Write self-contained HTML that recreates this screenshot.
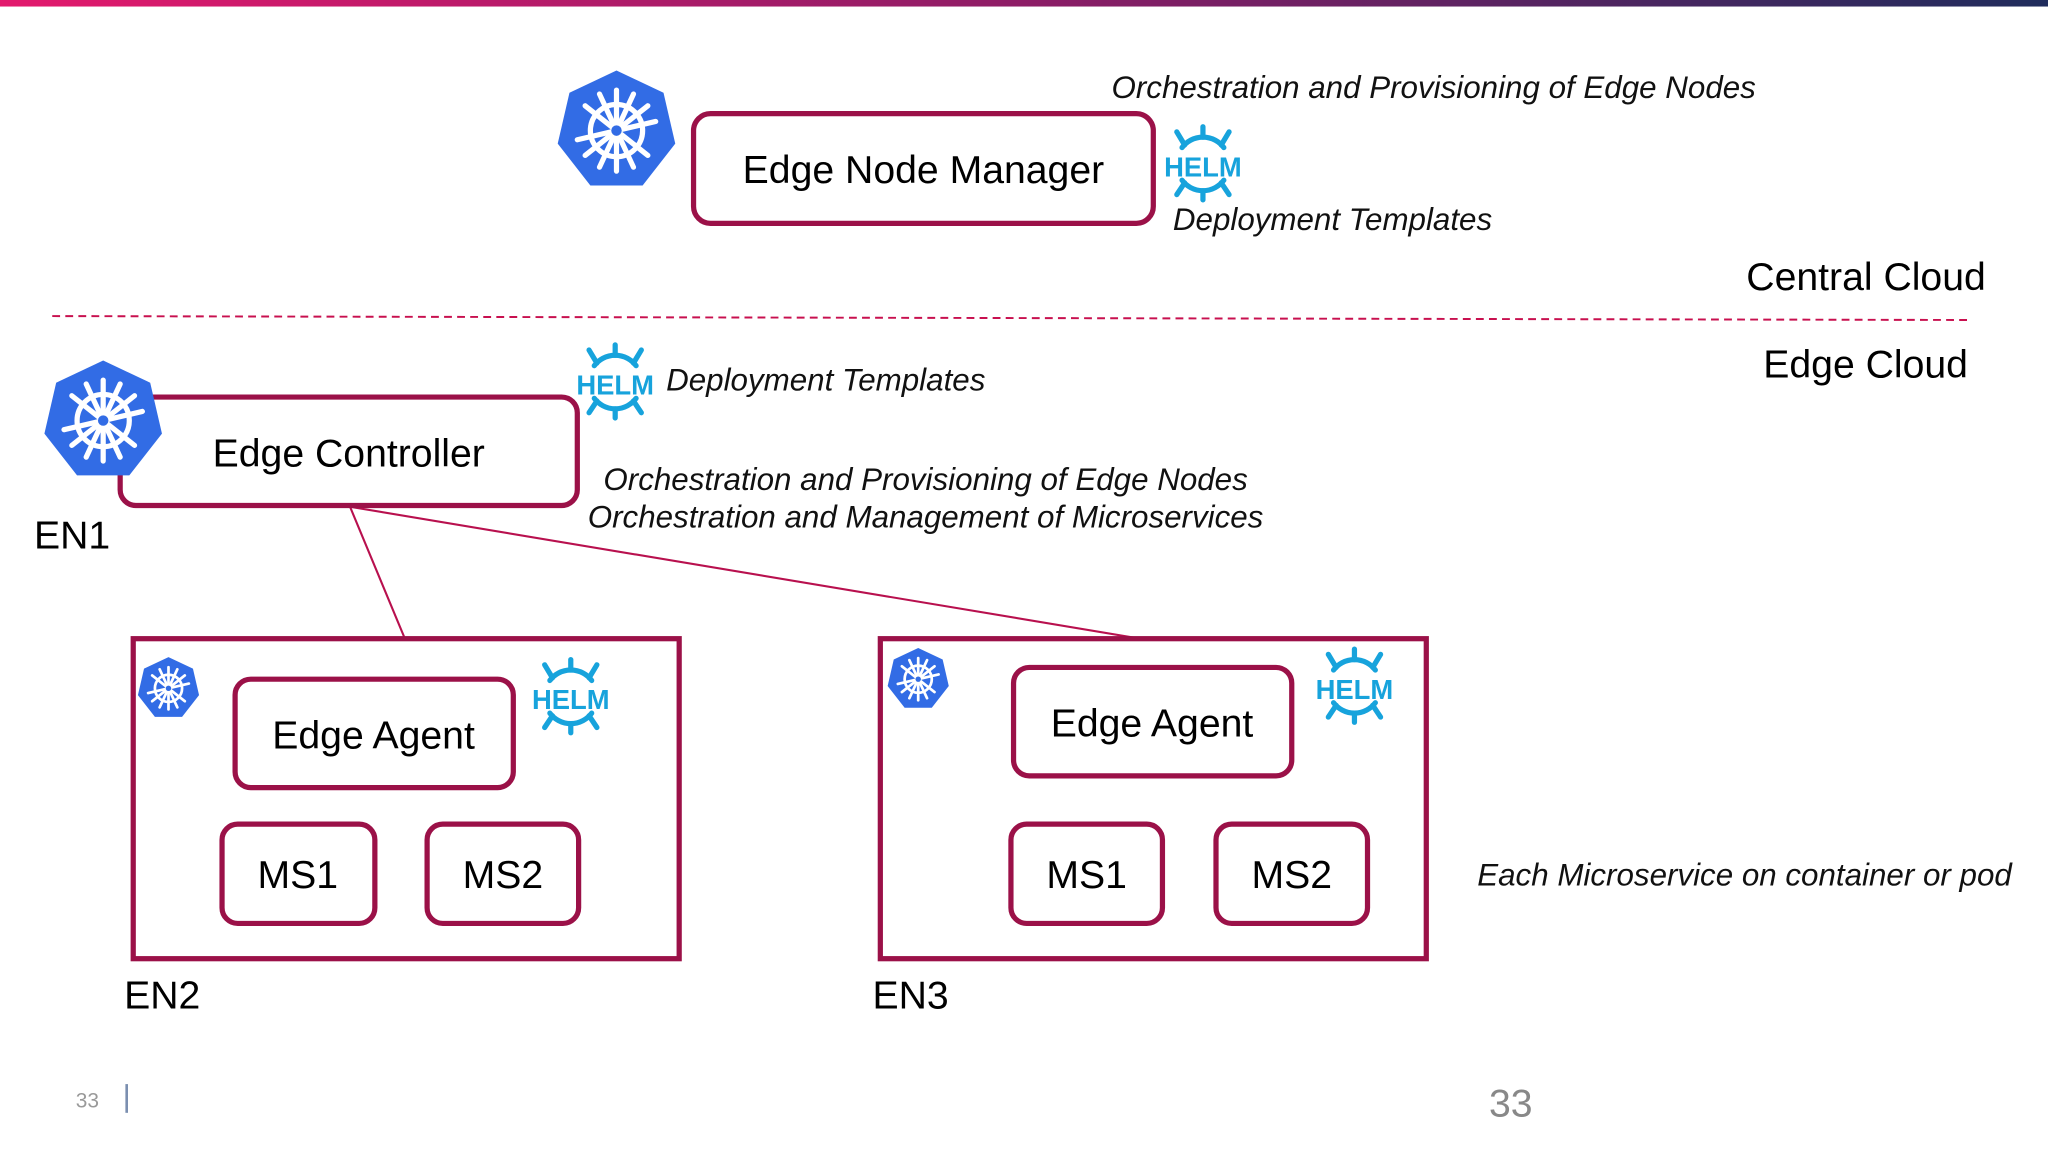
<!DOCTYPE html>
<html><head><meta charset="utf-8"><style>
html,body{margin:0;padding:0;background:#fff;}
svg{display:block;}
text{font-family:"Liberation Sans",Arial,sans-serif;}
.it{font-style:italic;font-size:24px;fill:#111;}
.lb{font-size:30px;fill:#000;}
.box{fill:#fff;stroke:#9b1148;stroke-width:4;}
</style></head><body>
<svg width="2048" height="1152" viewBox="0 0 1568 882" preserveAspectRatio="none" xmlns="http://www.w3.org/2000/svg">
<defs>
<linearGradient id="g" x1="0" x2="1" y1="0" y2="0">
<stop offset="0" stop-color="#e3196d"/><stop offset="0.5" stop-color="#8d1c66"/><stop offset="1" stop-color="#1f2c5c"/>
</linearGradient>
<g id="k8s">
<polygon points="0,-46 36,-29 45,10 20,42 -20,42 -45,10 -36,-29" fill="#326ce5"/>
<g stroke="#fff" stroke-width="4" fill="none" stroke-linecap="round">
<circle r="20"/>
<line x1="0" y1="-31" x2="0" y2="31"/>
<line x1="-24" y1="-19" x2="24" y2="19"/>
<line x1="24" y1="-19" x2="-24" y2="19"/>
<line x1="-30" y1="7" x2="30" y2="-7"/>
<line x1="-13" y1="28" x2="13" y2="-28"/>
<line x1="13" y1="28" x2="-13" y2="-28"/>
</g>
<circle r="4" fill="#326ce5"/>
</g>
<g id="helm" stroke="#17a3dc" stroke-width="4" fill="none" stroke-linecap="round">
<path d="M-16,-12 A20,20 0 0 1 16,-12"/>
<path d="M-16,13 A20,20 0 0 0 16,13"/>
<line x1="0" y1="-20" x2="0" y2="-28"/><line x1="-14" y1="-14" x2="-20" y2="-24"/><line x1="14" y1="-14" x2="20" y2="-24"/>
<line x1="0" y1="21" x2="0" y2="28"/><line x1="-14" y1="15" x2="-20" y2="24"/><line x1="14" y1="15" x2="20" y2="24"/>
</g>
</defs>
<rect x="0" y="0" width="1568" height="5" fill="url(#g)"/>

<use href="#k8s" transform="translate(472,100)"/>
<rect class="box" x="531" y="87" width="352" height="84" rx="13"/>
<text class="lb" x="707" y="140" text-anchor="middle">Edge Node Manager</text>
<use href="#helm" transform="translate(921,125)"/>
<text x="921" y="135" text-anchor="middle" font-weight="bold" font-size="21" fill="#17a3dc">HELM</text>
<text class="it" x="851" y="75">Orchestration and Provisioning of Edge Nodes</text>
<text class="it" x="898" y="176">Deployment Templates</text>
<text class="lb" x="1337" y="222" font-size="29">Central Cloud</text>
<line x1="40" y1="242" x2="1506" y2="245" stroke="#c8104f" stroke-width="1.5" stroke-dasharray="6,4"/>
<text class="lb" x="1350" y="289" font-size="29">Edge Cloud</text>

<line x1="268" y1="388" x2="310" y2="489" stroke="#b8104e" stroke-width="1.6"/>
<line x1="268" y1="388" x2="873" y2="489" stroke="#b8104e" stroke-width="1.6"/>
<rect class="box" x="92" y="304" width="350" height="83" rx="12"/>
<use href="#k8s" transform="translate(79,322)"/>
<text class="lb" x="267" y="357" text-anchor="middle">Edge Controller</text>
<text class="lb" x="26" y="420">EN1</text>
<use href="#helm" transform="translate(471,292)"/>
<text x="471" y="302" text-anchor="middle" font-weight="bold" font-size="21" fill="#17a3dc">HELM</text>
<text class="it" x="510" y="299">Deployment Templates</text>
<text class="it" x="462" y="375">Orchestration and Provisioning of Edge Nodes</text>
<text class="it" x="450" y="404">Orchestration and Management of Microservices</text>

<rect x="102" y="489" width="418" height="245" fill="#fff" stroke="#9b1148" stroke-width="4"/>
<use href="#k8s" transform="translate(129,527) scale(0.52)"/>
<rect class="box" x="180" y="520" width="213" height="83" rx="12"/>
<text class="lb" x="286" y="573" text-anchor="middle">Edge Agent</text>
<use href="#helm" transform="translate(437,533)"/>
<text x="437" y="543" text-anchor="middle" font-weight="bold" font-size="21" fill="#17a3dc">HELM</text>
<rect class="box" x="170" y="631" width="117" height="76" rx="12"/>
<text class="lb" x="228" y="680" text-anchor="middle">MS1</text>
<rect class="box" x="327" y="631" width="116" height="76" rx="12"/>
<text class="lb" x="385" y="680" text-anchor="middle">MS2</text>
<text class="lb" x="95" y="772">EN2</text>

<rect x="674" y="489" width="418" height="245" fill="#fff" stroke="#9b1148" stroke-width="4"/>
<use href="#k8s" transform="translate(703,520) scale(0.52)"/>
<rect class="box" x="776" y="511" width="213" height="83" rx="12"/>
<text class="lb" x="882" y="564" text-anchor="middle">Edge Agent</text>
<use href="#helm" transform="translate(1037,525)"/>
<text x="1037" y="535" text-anchor="middle" font-weight="bold" font-size="21" fill="#17a3dc">HELM</text>
<rect class="box" x="774" y="631" width="116" height="76" rx="12"/>
<text class="lb" x="832" y="680" text-anchor="middle">MS1</text>
<rect class="box" x="931" y="631" width="116" height="76" rx="12"/>
<text class="lb" x="989" y="680" text-anchor="middle">MS2</text>
<text class="lb" x="668" y="772">EN3</text>
<text class="it" x="1131" y="678">Each Microservice on container or pod</text>

<text x="58" y="848" font-size="16" fill="#999">33</text>
<line x1="97" y1="830" x2="97" y2="852" stroke="#7b8fb0" stroke-width="2"/>
<text x="1140" y="855" font-size="30" fill="#888">33</text>
</svg>
</body></html>
